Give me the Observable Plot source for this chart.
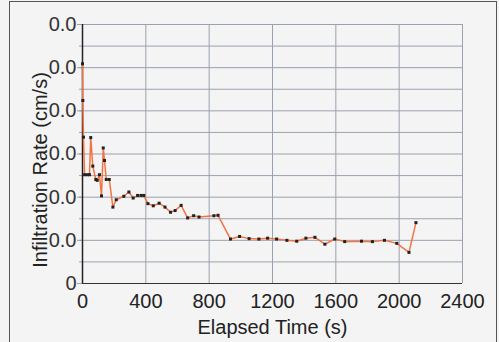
<!DOCTYPE html>
<html>
<head>
<meta charset="utf-8">
<script src="https://cdn.jsdelivr.net/npm/d3@7"></script>
<script src="https://cdn.jsdelivr.net/npm/@observablehq/plot@0.6"></script>
<style>
  html, body { margin: 0; padding: 0; background: #f4f4f4; }
  #chart { position: relative; width: 499px; height: 342px; overflow: hidden; }
  #frame { position: absolute; left: 9px; top: 1px; width: 486px; height: 420px; border: 1px solid #555; }
  #chart svg { position: absolute; left: 0; top: 0; }
</style>
</head>
<body>
<div id="chart"><div id="frame"></div></div>
<script>
// Infiltration test readings: elapsed time (s) and infiltration rate (cm/s)
const elapsed = [0, 2, 6, 13, 30, 44, 52, 65, 84, 93, 107, 120, 131, 139, 150, 169, 192, 213, 261, 293,
  320, 348, 370, 387, 413, 447, 484, 521, 556, 585, 623, 664, 702, 736, 830, 856, 935, 992, 1052, 1114,
  1169, 1226, 1291, 1353, 1411, 1468, 1531, 1593, 1656, 1762, 1831, 1907, 1985, 2062, 2106];
const rate = [0.0509, 0.0424, 0.0339, 0.0252, 0.0252, 0.0252, 0.0338, 0.0272, 0.0241, 0.0239, 0.0252,
  0.0203, 0.0314, 0.0285, 0.0241, 0.0241, 0.0177, 0.0194, 0.0202, 0.0212, 0.0198, 0.0204, 0.0204, 0.0204,
  0.0185, 0.0180, 0.0186, 0.0177, 0.0165, 0.0169, 0.0181, 0.0152, 0.0157, 0.0154, 0.0157, 0.0158, 0.0103,
  0.0109, 0.0104, 0.0103, 0.0105, 0.0103, 0.0100, 0.0098, 0.0105, 0.0107, 0.0091, 0.0103, 0.0097, 0.0098,
  0.0097, 0.0100, 0.0093, 0.0072, 0.0141];

// Axis ticks and grid positions
const xTicks = [0, 400, 800, 1200, 1600, 2000, 2400];
const yTicks = [0, 0.01, 0.02, 0.03, 0.04, 0.05, 0.06];
const yGrid = [0, 0.005, 0.01, 0.015, 0.02, 0.025, 0.03, 0.035, 0.04, 0.045, 0.05, 0.055, 0.06];

const xTitle = "Elapsed Time (s)";
const yTitle = "Infiltration Rate (cm/s)";

const readings = elapsed.map((t, i) => ({t, r: rate[i]}));
const gridColor = "#9aa1ae";
const fontFamily = "'Liberation Sans', Arial, sans-serif";

const chart = Plot.plot({
  width: 499,
  height: 342,
  marginLeft: 82,
  marginRight: 37,
  marginTop: 24,
  marginBottom: 59,
  style: {background: "transparent", fontFamily, fontSize: "20px", color: "#222"},
  x: {domain: [0, 2400]},
  y: {domain: [0, 0.06]},
  marks: [
    Plot.gridY(yGrid, {stroke: gridColor, strokeOpacity: 1}),
    Plot.gridX(xTicks, {stroke: gridColor, strokeOpacity: 1}),
    Plot.axisY(yGrid, {tickSize: 3, tickFormat: () => "", stroke: gridColor, label: null}),
    // labels are cut to three characters, as the axis shows them
    Plot.axisY(yTicks, {tickSize: 5, tickPadding: 1, tickFormat: d => String(d).slice(0, 3), stroke: gridColor, fill: "#333", label: null}),
    Plot.axisX(xTicks, {tickSize: 0, tickPadding: 10, tickFormat: d => String(d), fill: "#222", label: null}),
    Plot.ruleX([0], {stroke: "#222", strokeWidth: 1.5}),
    Plot.ruleY([0], {stroke: "#333"}),
    Plot.line(readings, {x: "t", y: "r", stroke: "#f37443", strokeWidth: 1.5}),
    Plot.dot(readings, {x: "t", y: "r", symbol: "square", r: 1.7, fill: "#222"}),
    Plot.text([xTitle], {frameAnchor: "bottom", lineAnchor: "bottom", dy: 50, fontSize: 20, fill: "#222"})
  ]
});

// Rotated y-axis title, placed left of the tick labels
d3.select(chart).append("text")
  .attr("transform", "translate(41,170) rotate(-90)")
  .attr("text-anchor", "middle")
  .attr("dy", "0.32em")
  .attr("fill", "#222")
  .attr("font-family", fontFamily)
  .attr("font-size", 20)
  .text(yTitle);

document.getElementById("chart").appendChild(chart);
</script>
</body>
</html>
